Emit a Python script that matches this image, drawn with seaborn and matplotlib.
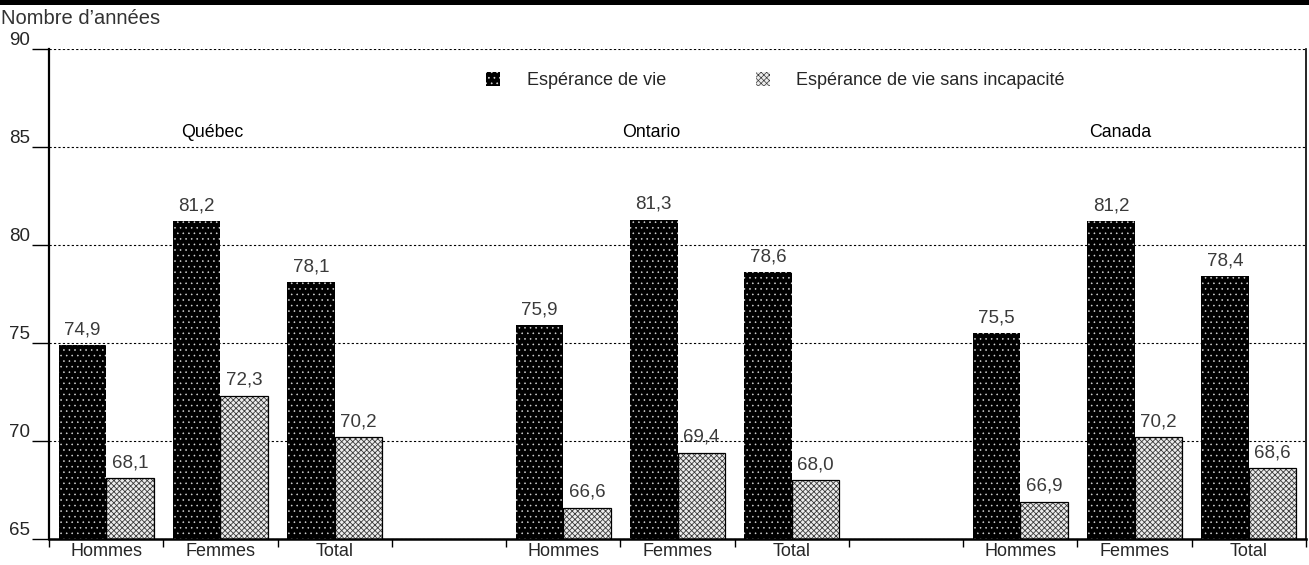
import numpy as np
import pandas as pd
import matplotlib
matplotlib.use("Agg")
import matplotlib.pyplot as plt
from matplotlib.patches import Patch, Rectangle
import seaborn as sns

# ---------------- data ----------------
regions = ["Québec", "Ontario", "Canada"]
groups = ["Hommes", "Femmes", "Total"]
series_names = ["Espérance de vie", "Espérance de vie sans incapacité"]
esperance_vie = [74.9, 81.2, 78.1, 75.9, 81.3, 78.6, 75.5, 81.2, 78.4]
esperance_sans_incapacite = [68.1, 72.3, 70.2, 66.6, 69.4, 68.0, 66.9, 70.2, 68.6]
y_ticks = [65, 70, 75, 80, 85, 90]
y_title = "Nombre d’années"

# ---------------- table ----------------
order, tick_labels, rows = [], [], []
k = 0
for i, r in enumerate(regions):
    for g in groups:
        key = f"{r}|{g}"
        order.append(key)
        tick_labels.append(g)
        rows.append((key, series_names[0], esperance_vie[k]))
        rows.append((key, series_names[1], esperance_sans_incapacite[k]))
        k += 1
    if i < len(regions) - 1:
        order.append(f"gap{i}")
        tick_labels.append("")
df = pd.DataFrame(rows, columns=["slot", "series", "value"])

# ---------------- style ----------------
sns.set_style("ticks")
plt.rcParams["font.family"] = ["Liberation Sans", "DejaVu Sans"]
plt.rcParams["hatch.linewidth"] = 0.5

BLACK_HATCH = "..."
GRAY_HATCH = "xxxxxx"
GRAY_FACE = "#ececec"
GRAY_LINE = "#3a3a3a"

fig = plt.figure(figsize=(13.09, 5.65), dpi=100)
ax = fig.add_axes([49 / 1309, 1 - 539 / 565, (1306 - 49) / 1309, (539 - 49) / 565])

sns.barplot(data=df, x="slot", y="value", hue="series", order=order,
            hue_order=series_names, palette=["black", GRAY_FACE], saturation=1,
            width=0.83, gap=0, legend=False, ax=ax, err_kws={"linewidth": 0})

c_black, c_gray = ax.containers[0], ax.containers[1]
for p in c_black:
    p.set_facecolor("black")
    p.set_edgecolor("#d8d8d8")
    p.set_hatch(BLACK_HATCH)
    p.set_linewidth(0)
    if hasattr(p, "set_hatch_linewidth"):
        p.set_hatch_linewidth(0.4)
for p in c_gray:
    p.set_facecolor(GRAY_FACE)
    p.set_edgecolor(GRAY_LINE)
    p.set_hatch(GRAY_HATCH)
    p.set_linewidth(0)
    if hasattr(p, "set_hatch_linewidth"):
        p.set_hatch_linewidth(0.6)
    ax.add_patch(Rectangle(p.get_xy(), p.get_width(), p.get_height(),
                           fill=False, edgecolor="black", linewidth=0.9, zorder=p.get_zorder() + 0.1))

for c in (c_black, c_gray):
    ax.bar_label(c, labels=[f"{v:.1f}".replace(".", ",") for v in c.datavalues],
                 padding=5, fontsize=13.5, color="#3a3a3a")

# axes
ax.set_ylim(y_ticks[0], y_ticks[-1])
ax.set_xlim(-0.5, len(order) - 0.5)
ax.set_yticks(y_ticks)
ax.set_yticklabels([str(t) for t in y_ticks], fontsize=13.5)
for lbl in ax.get_yticklabels():
    lbl.set_va("bottom")
ax.tick_params(axis="y", length=12, width=1, pad=1.5, color="black", left=True)

ax.set_xticks(range(len(order)))
ax.set_xticklabels(tick_labels, fontsize=13)
ax.set_xticks(np.arange(-0.5, len(order), 1), minor=True)
ax.tick_params(axis="x", which="major", length=0, pad=3)
ax.tick_params(axis="x", which="minor", length=6, width=1, color="black", bottom=True)
ax.set_xlabel("")
ax.set_ylabel("")

ax.set_axisbelow(True)
ax.yaxis.grid(True, linestyle=(0, (2, 2)), color="black", linewidth=0.8)
ax.spines["top"].set_visible(False)
ax.spines["left"].set_linewidth(1.6)
ax.spines["bottom"].set_linewidth(1.8)
ax.spines["right"].set_linewidth(1.2)
for s in ax.spines.values():
    s.set_color("black")

# region titles
region_x = [0.93, 4.77, 8.87]
for r, x in zip(regions, region_x):
    ax.text(x, 85.75, r, ha="center", va="center", fontsize=12.8, color="black")

# legend
h1 = Patch(facecolor="black", edgecolor="#d8d8d8", hatch=BLACK_HATCH, linewidth=0)
h2 = Patch(facecolor=GRAY_FACE, edgecolor=GRAY_LINE, hatch=GRAY_HATCH, linewidth=0)
for h, lw in ((h1, 0.4), (h2, 0.6)):
    if hasattr(h, "set_hatch_linewidth"):
        h.set_hatch_linewidth(lw)
ax.legend([h1, h2], series_names, loc="center", bbox_to_anchor=(0.578, 0.935),
          ncol=2, frameon=False, fontsize=13, handlelength=0.78, handleheight=0.78,
          handletextpad=1.45, columnspacing=5.0)

# header
fig.add_artist(Rectangle((0, 1 - 5 / 565), 1, 5 / 565, transform=fig.transFigure,
                         facecolor="black", edgecolor="none"))
fig.text(1 / 1309, 1 - 19 / 565, y_title, ha="left", va="center", fontsize=14.5, color="#333333")

fig.savefig("out.png", dpi=100)
